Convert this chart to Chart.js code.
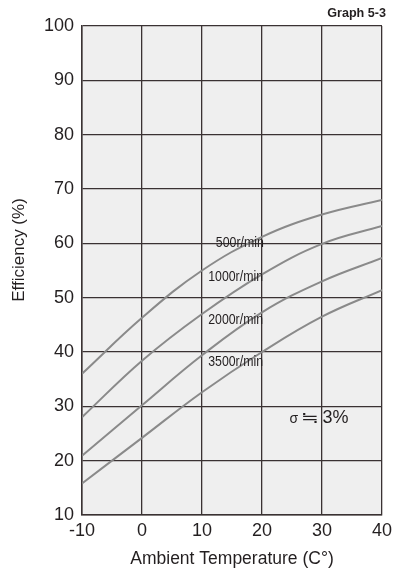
<!DOCTYPE html>
<html><head><meta charset="utf-8">
<script src="https://cdn.jsdelivr.net/npm/chart.js@4/dist/chart.umd.min.js"></script>
<style>html,body{margin:0;padding:0;background:#fff}#wrap{width:397px;height:571px;position:relative}</style>
</head><body><div id="wrap"><canvas id="c" width="397" height="571"></canvas></div>
<script>
// Data (Graph 5-3)
const temps = [-10, 0, 10, 20, 30, 40];
const eff500 = [36, 46.3, 55, 61.2, 65.3, 68];
const eff1000 = [28, 38.4, 47, 54.3, 59.9, 63.2];
const eff2000 = [20.9, 30.2, 39.4, 47.3, 53, 57.3];
const eff3500 = [15.8, 24.2, 32.6, 40, 46.5, 51.4];
const seriesNames = ['500r/min', '1000r/min', '2000r/min', '3500r/min'];
const xTicks = [-10, 0, 10, 20, 30, 40];
const yTicks = [10, 20, 30, 40, 50, 60, 70, 80, 90, 100];
const xTitle = 'Ambient Temperature (C°)';
const yTitle = 'Efficiency (%)';
const graphTitle = 'Graph 5-3';
const sigmaNote = ['σ', '≒', '3%'];

const toPts = arr => temps.map((t, i) => ({x: t, y: arr[i]}));
const allSeries = [eff500, eff1000, eff2000, eff3500];

const textColor = '#231f20';
const gridColor = '#3a3233';
const FAM = '"Liberation Sans", Arial, sans-serif';

const decor = {
  id: 'decor',
  beforeDraw(chart) {
    const {ctx, chartArea: a} = chart;
    ctx.save();
    ctx.fillStyle = '#efefef';
    ctx.fillRect(a.left, a.top, a.right - a.left, a.bottom - a.top);
    ctx.restore();
  },
  afterDraw(chart) {
    const {ctx, chartArea: a, scales: {x, y}} = chart;
    ctx.save();
    ctx.fillStyle = textColor;
    // curve labels (anchor in data units)
    const anchors = [[16.3, 60], [15.6, 53.8], [15.6, 45.9], [15.6, 38.2]];
    ctx.textBaseline = 'middle';
    ctx.textAlign = 'center';
    seriesNames.forEach((s, i) => {
      const px = x.getPixelForValue(anchors[i][0]);
      const py = y.getPixelForValue(anchors[i][1]);
      ctx.save();
      ctx.translate(px, py);
      ctx.scale(0.88, 1);
      ctx.font = '14px ' + FAM;
      ctx.fillText(s, 0, 0);
      ctx.restore();
    });
    // sigma note
    const sx = x.getPixelForValue(24.6);
    const sy = y.getPixelForValue(26.9);
    ctx.textAlign = 'left';
    ctx.textBaseline = 'alphabetic';
    ctx.font = '14px ' + FAM;
    ctx.fillText(sigmaNote[0], sx, sy);
    ctx.save();
    ctx.translate(sx + 11, sy);
    ctx.scale(1.35, 1);
    ctx.font = '16px "DejaVu Sans", sans-serif';
    ctx.fillText(sigmaNote[1], 0, 0);
    ctx.restore();
    ctx.font = '18px ' + FAM;
    ctx.fillText(sigmaNote[2], sx + 33, sy);
    // graph title
    ctx.font = 'bold 12px ' + FAM;
    ctx.textAlign = 'right';
    ctx.save();
    ctx.translate(386, 17);
    ctx.scale(1.05, 1);
    ctx.fillText(graphTitle, 0, 0);
    ctx.restore();
    // axis titles
    ctx.font = '17.5px ' + FAM;
    ctx.textAlign = 'center';
    ctx.textBaseline = 'middle';
    ctx.fillText(xTitle, (a.left + a.right) / 2, 559);
    ctx.save();
    ctx.translate(19, 250);
    ctx.rotate(-Math.PI / 2);
    ctx.font = '17px ' + FAM;
    ctx.fillText(yTitle, 0, 0);
    ctx.restore();
    ctx.restore();
  }
};

new Chart(document.getElementById('c'), {
  type: 'line',
  data: {
    datasets: allSeries.map((arr, i) => ({
      label: seriesNames[i],
      data: toPts(arr),
      borderColor: '#8a8a8a',
      borderWidth: 2,
      pointRadius: 0,
      fill: false,
      tension: 0.4
    }))
  },
  options: {
    responsive: false,
    animation: false,
    devicePixelRatio: 1,
    layout: {padding: {left: 0, right: 14, top: 26, bottom: 0}},
    plugins: {legend: {display: false}, tooltip: {enabled: false}},
    scales: {
      x: {
        type: 'linear', min: -10, max: 40,
        afterBuildTicks: s => { s.ticks = xTicks.map(v => ({value: v})); },
        afterFit: s => { s.height = 56; },
        grid: {color: gridColor, lineWidth: 1.3, drawTicks: false},
        border: {color: gridColor, width: 1.5},
        ticks: {color: textColor, padding: 5, font: {family: FAM, size: 18}, maxRotation: 0}
      },
      y: {
        type: 'linear', min: 10, max: 100,
        afterBuildTicks: s => { s.ticks = yTicks.map(v => ({value: v})); },
        afterFit: s => { s.width = 82; },
        grid: {color: gridColor, lineWidth: 1.3, drawTicks: false},
        border: {color: gridColor, width: 1.5},
        ticks: {color: textColor, padding: 8, font: {family: FAM, size: 18}}
      }
    }
  },
  plugins: [decor]
});
</script>
</body></html>
